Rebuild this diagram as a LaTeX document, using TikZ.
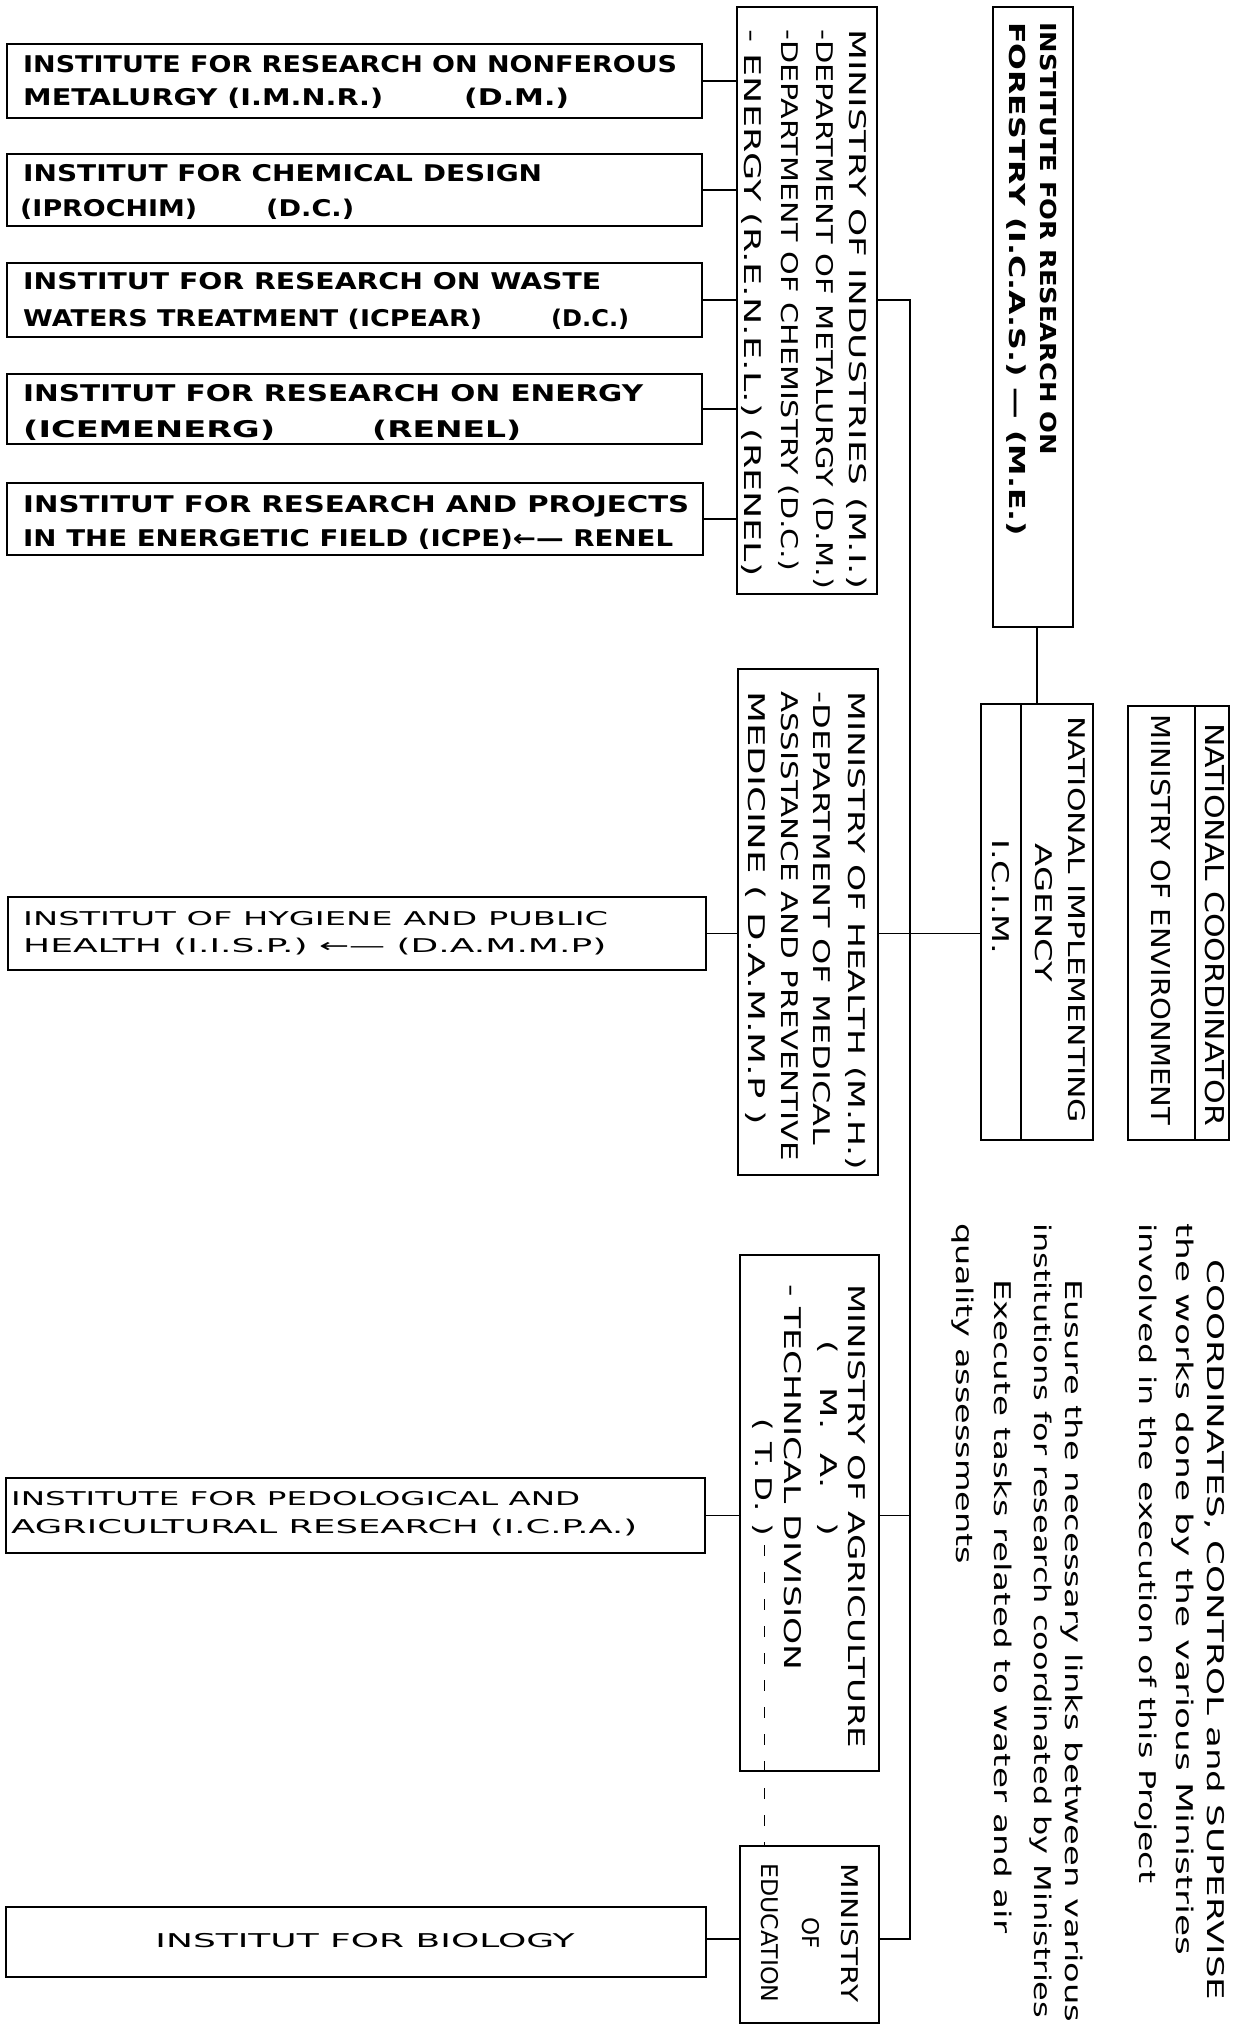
\documentclass[tikz,border=0pt]{standalone}
\usepackage{fontspec}
\usepackage{graphicx}
\setmainfont{DejaVu Sans}
\newfontfamily\stenfam{DejaVu Sans}
\newcommand\insfont{\stenfam\bfseries\fontsize{23}{28}\selectfont}
\newcommand\minfont{\stenfam\fontsize{23}{28}\selectfont}
\newcommand\minbfont{\stenfam\bfseries\fontsize{22}{28}\selectfont}
\newcommand\bigminfont{\stenfam\fontsize{26}{30}\selectfont}
\newcommand\lowfont{\stenfam\fontsize{19}{24}\selectfont}
\newcommand\notefont{\stenfam\fontsize{23}{28}\selectfont}
\newcommand\fitw[2]{\resizebox{#1}{\height}{#2}}
\begin{document}
\begin{tikzpicture}[x=1pt,y=-1pt,
  box/.style={draw, line width=2.6pt, rectangle, anchor=north west, inner sep=0pt, outer sep=0pt},
  mbox/.style={box, line width=2.3pt},
  conn/.style={line width=1.8pt},
  ht/.style={anchor=base west, inner sep=0pt},
  hc/.style={anchor=base, inner sep=0pt},
  vt/.style={rotate=-90, anchor=base west, inner sep=0pt},
  vc/.style={rotate=-90, anchor=base, inner sep=0pt}]
\fill[white] (0,0) rectangle (1241,2027);
\useasboundingbox (0,0) rectangle (1241,2027);

% institute boxes
\node[box, minimum width=695pt, minimum height=74pt] (b1) at (7,44) {};
\node[box, minimum width=695pt, minimum height=72pt] (b2) at (7,154) {};
\node[box, minimum width=695pt, minimum height=74pt] (b3) at (7,263) {};
\node[box, minimum width=695pt, minimum height=70pt] (b4) at (7,374) {};
\node[box, minimum width=696pt, minimum height=72pt] (b5) at (7,483) {};
\node[box, minimum width=698pt, minimum height=73pt] (iisp) at (8,897) {};
\node[box, minimum width=699pt, minimum height=75pt] (icpa) at (6,1478) {};
\node[box, line width=2pt, minimum width=700pt, minimum height=70pt] (bio) at (6,1907) {};

% ministry boxes
\node[mbox, minimum width=140pt, minimum height=587pt] (mi) at (737,7) {};
\node[mbox, minimum width=80pt, minimum height=620pt] (fo) at (993,7) {};
\node[mbox, minimum width=112pt, minimum height=436pt] (nia) at (981,704) {};
\node[mbox, minimum width=101pt, minimum height=434pt] (nc) at (1128,706) {};
\node[mbox, minimum width=140pt, minimum height=506pt] (mh) at (738,669) {};
\node[mbox, minimum width=139pt, minimum height=516pt] (ma) at (740,1255) {};
\node[mbox, minimum width=139pt, minimum height=177pt] (me) at (740,1846) {};

% dividers
\draw[line width=2.3pt] ([xshift=40pt]nia.north west) -- ([xshift=40pt]nia.south west);
\draw[line width=2.3pt] ([xshift=67pt]nc.north west) -- ([xshift=67pt]nc.south west);

% connectors
\foreach \b in {b1,b2,b3,b4,b5}{\draw[conn] (\b.east) -- (mi.west |- \b.east);}
\coordinate (tTop) at (910,300);
\coordinate (tBot) at (910,1939);
\draw[conn] (mi.east |- tTop) -- (tTop) -- (tBot) -- (me.east |- tBot);
\draw[conn] (iisp.east) -- (mh.west |- iisp.east);
\draw[conn] (mh.east |- iisp.east) -- (nia.west |- iisp.east);
\draw[conn] (icpa.east) -- (ma.west |- icpa.east);
\draw[conn] (ma.east |- icpa.east) -- (tTop |- icpa.east);
\draw[conn] (bio.east |- tBot) -- (me.west |- tBot);
\coordinate (foBot) at (1037,627);
\draw[conn] (foBot) -- (foBot |- nia.north);
\coordinate (td) at (764,1545);
\draw[line width=1pt, dash pattern=on 11pt off 16pt] (td) -- (td |- me.north);

% institute texts
\node[ht, font=\insfont] (t1a) at (23,72) {\fitw{654pt}{INSTITUTE FOR RESEARCH ON NONFEROUS}};
\node[ht, font=\insfont] (t1b) at (23,105) {\fitw{360pt}{METALURGY (I.M.N.R.)}};
\node[ht, font=\insfont] (t1c) at (464,105) {\fitw{105pt}{(D.M.)}};
\node[ht, font=\insfont] (t2a) at (23,181) {\fitw{519pt}{INSTITUT FOR CHEMICAL DESIGN}};
\node[ht, font=\insfont] (t2b) at (20,216) {\fitw{177pt}{(IPROCHIM)}};
\node[ht, font=\insfont] (t2c) at (266,216) {\fitw{88pt}{(D.C.)}};
\node[ht, font=\insfont] (t3a) at (23,289) {\fitw{578pt}{INSTITUT FOR RESEARCH ON WASTE}};
\node[ht, font=\insfont] (t3b) at (23,326) {\fitw{459pt}{WATERS TREATMENT (ICPEAR)}};
\node[ht, font=\insfont] (t3c) at (551,326) {\fitw{78pt}{(D.C.)}};
\node[ht, font=\insfont] (t4a) at (23,401) {\fitw{620pt}{INSTITUT FOR RESEARCH ON ENERGY}};
\node[ht, font=\insfont] (t4b) at (23,437) {\fitw{252pt}{(ICEMENERG)}};
\node[ht, font=\insfont] (t4c) at (372,437) {\fitw{149pt}{(RENEL)}};
\node[ht, font=\insfont] (t5a) at (23,512) {\fitw{666pt}{INSTITUT FOR RESEARCH AND PROJECTS}};
\node[ht, font=\insfont] (t5b) at (23,546) {\fitw{650pt}{IN THE ENERGETIC FIELD (ICPE)←— RENEL}};
\node[ht, font=\lowfont] (t6a) at (23,925) {\fitw{585pt}{INSTITUT OF HYGIENE AND PUBLIC}};
\node[ht, font=\lowfont] (t6b) at (23,952) {\fitw{583pt}{HEALTH (I.I.S.P.) ←— (D.A.M.M.P)}};
\node[ht, font=\lowfont] (t7a) at (11,1505) {\fitw{569pt}{INSTITUTE FOR PEDOLOGICAL AND}};
\node[ht, font=\lowfont] (t7b) at (11,1533) {\fitw{626pt}{AGRICULTURAL RESEARCH (I.C.P.A.)}};
\node[hc, font=\lowfont] (t8) at (365,1947) {\fitw{419pt}{INSTITUT FOR BIOLOGY}};

% ministry of industries
\node[vt, font=\minfont] (m1) at (849,29) {\fitw{560pt}{MINISTRY OF INDUSTRIES (M.I.)}};
\node[vt, font=\minfont] (m2) at (816,29) {\fitw{560pt}{-DEPARTMENT OF METALURGY (D.M.)}};
\node[vt, font=\minfont] (m3) at (781,29) {\fitw{542pt}{-DEPARTMENT OF CHEMISTRY (D.C.)}};
\node[vt, font=\minfont] (m4) at (744,29) {\fitw{547pt}{- ENERGY (R.E.N.E.L.) (RENEL)}};
% forestry
\node[vt, font=\minbfont] (f1) at (1040,22) {\fitw{433pt}{INSTITUTE FOR RESEARCH ON}};
\node[vt, font=\minbfont] (f2) at (1009,22) {\fitw{514pt}{FORESTRY (I.C.A.S.) — (M.E.)}};
% national implementing agency
\node[vt, font=\minfont] (n1) at (1068,716) {\fitw{407pt}{NATIONAL IMPLEMENTING}};
\node[vc, font=\minfont] (n2) at (1035,913) {\fitw{139pt}{AGENCY}};
\node[vc, font=\minfont] (n3) at (992,897) {\fitw{115pt}{I.C.I.M.}};
% national coordinator
\node[vt, font=\bigminfont] (c1) at (1205,723) {\fitw{403pt}{NATIONAL COORDINATOR}};
\node[vt, font=\bigminfont] (c2) at (1151,714) {\fitw{411pt}{MINISTRY OF ENVIRONMENT}};
% health
\node[vt, font=\minfont] (h1) at (848,691) {\fitw{479pt}{MINISTRY OF HEALTH (M.H.)}};
\node[vt, font=\minfont] (h2) at (813,691) {\fitw{454pt}{-DEPARTMENT OF MEDICAL}};
\node[vt, font=\minfont] (h3) at (781,691) {\fitw{470pt}{ASSISTANCE AND PREVENTIVE}};
\node[vt, font=\minfont] (h4) at (748,691) {\fitw{434pt}{MEDICINE ( D.A.M.M.P )}};
% agriculture
\node[vt, font=\minfont] (a1) at (848,1284) {\fitw{464pt}{MINISTRY OF AGRICULTURE}};
\node[vt, font=\minfont] (a2) at (820,1340) {\fitw{196pt}{(\hspace{22pt}M.\hspace{16pt}A.\hspace{22pt})}};
\node[vt, font=\minfont] (a3) at (784,1284) {\fitw{386pt}{- TECHNICAL DIVISION}};
\node[vt, font=\minfont] (a4) at (755,1418) {\fitw{118pt}{(\hspace{8pt}T.\hspace{6pt}D.\hspace{8pt})}};
% education
\node[vc, font=\minfont] (e1) at (841,1933) {\fitw{139pt}{MINISTRY}};
\node[vc, font=\minfont] (e2) at (802,1933) {OF};
\node[vc, font=\minfont] (e3) at (761,1933) {\fitw{139pt}{EDUCATION}};

% notes
\node[vt, font=\notefont] (p1) at (1207,1259) {\fitw{741pt}{COORDINATES, CONTROL and SUPERVISE}};
\node[vt, font=\notefont] (p2) at (1176,1223) {\fitw{732pt}{the works done by the various Ministries}};
\node[vt, font=\notefont] (p3) at (1139,1223) {\fitw{660pt}{involved in the execution of this Project}};
\node[vt, font=\notefont] (p4) at (1065,1279) {\fitw{743pt}{Eusure the necessary links between various}};
\node[vt, font=\notefont] (p5) at (1034,1223) {\fitw{795pt}{institutions for research coordinated by Ministries}};
\node[vt, font=\notefont] (p6) at (994,1279) {\fitw{654pt}{Execute tasks related to water and air}};
\node[vt, font=\notefont] (p7) at (956,1223) {\fitw{341pt}{quality assessments}};
\end{tikzpicture}
\end{document}
